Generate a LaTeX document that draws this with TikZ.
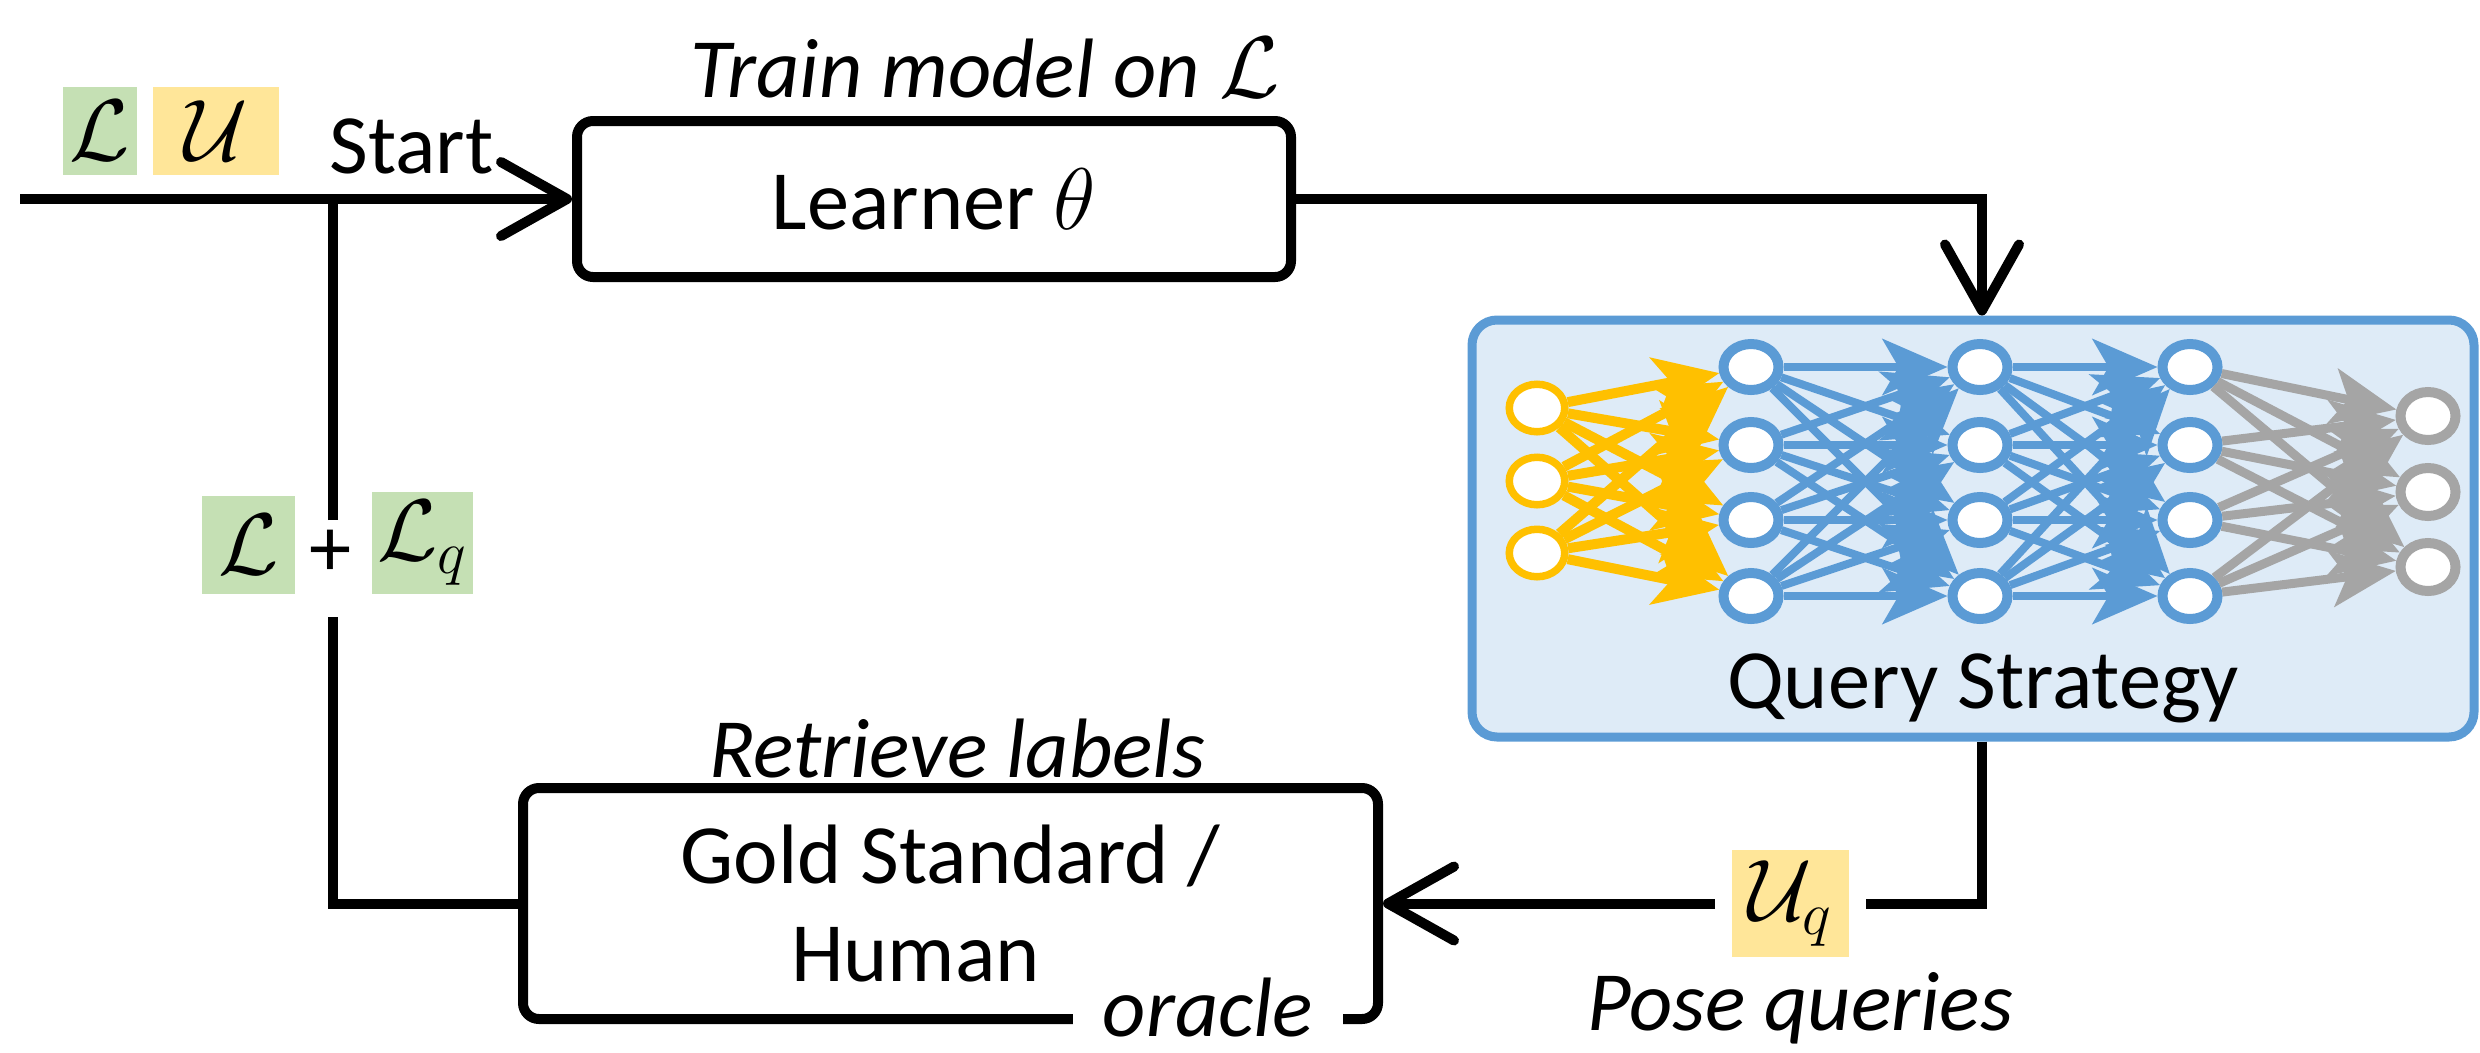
\documentclass[tikz,border=0pt]{standalone}
\usepackage{fontspec}
\setmainfont{Carlito}
\usetikzlibrary{arrows.meta,shapes.geometric}

\definecolor{gfill}{HTML}{C5E0B4}
\definecolor{yfill}{HTML}{FFE699}
\definecolor{qsfill}{HTML}{DEEBF7}
\definecolor{qsline}{HTML}{5B9BD5}
\definecolor{nnyellow}{HTML}{FFC000}
\definecolor{nnblue}{HTML}{5B9BD5}
\definecolor{nngray}{HTML}{A5A5A5}

\begin{document}
\begin{tikzpicture}[x=0.1mm,y=-0.1mm,
  every node/.style={font=\fontsize{24}{28}\selectfont},
  note/.style={font=\fontsize{24}{28}\selectfont\itshape, anchor=base},
  wire/.style={line width=1mm, black},
  flow/.style={wire, -{Straight Barb[length=6.6mm,width=7.4mm,round]}},
  procbox/.style={draw, line width=1mm, rounded corners=1.6mm, inner sep=0pt, align=center},
  tag/.style={inner sep=0pt},
  gtag/.style={tag, fill=gfill},
  ytag/.style={tag, fill=yfill},
  neuron/.style={ellipse, draw=#1, line width=1mm, fill=white, inner sep=0pt,
                 minimum width=5.5mm, minimum height=4.6mm},
  syn/.style={draw=#1, line width=0.8mm, -{Stealth[length=6.5mm,width=5.6mm,inset=1.6mm]}},
]
\useasboundingbox (0,0) rectangle (2480,1052);

% ---------- process boxes ----------
\node[procbox, minimum width=71.4mm, minimum height=15.6mm] (learner) at (934,199) {Learner $\theta$};
\node[procbox, minimum width=85.5mm, minimum height=23.1mm] (oracle) at (950.5,903.5)
  {Gold Standard /\\Human\hspace*{7mm}};
\node[draw=qsline, fill=qsfill, line width=0.9mm, rounded corners=2.5mm, inner sep=0pt,
      minimum width=100.2mm, minimum height=41.7mm] (qs) at (1973,528.5) {};
\node[anchor=base] (qstext) at (1983,708) {Query Strategy};

% ---------- captions ----------
\node[note] (train) at (985,97) {Train model on $\mathcal{L}$};
\node[note] (retrieve) at (957,777) {Retrieve labels};
\node[note] (pose) at (1800,1030) {Pose queries};
\node[anchor=base west] (start) at (317,173) {Start};

% ---------- set labels ----------
\node[gtag, minimum width=7.4mm, minimum height=8.8mm] (lset) at (100,131) {$\mathcal{L}$};
\node[ytag, minimum width=12.6mm, minimum height=8.8mm] (uset) at (216,131) {$\mathcal{U}$};
\node[gtag, minimum width=9.3mm, minimum height=9.8mm] (lold) at (248.5,545) {$\mathcal{L}$};
\node (plus) at (331,553) {+};
\node[gtag, minimum width=10.1mm, minimum height=10.2mm] (lnew) at (422.5,543) {$\mathcal{L}_q$};
\node[ytag, minimum width=11.7mm, minimum height=10.7mm, outer xsep=1.7mm] (uq) at (1790.5,903.5) {$\mathcal{U}_q$};

% ---------- connectors ----------
\coordinate (src) at (20,199);
\coordinate (join) at (333,199);
\coordinate (gaptop) at (333,520);
\coordinate (gapbot) at (333,617);
\draw[flow] (src) -- (learner.west);
\draw[wire] (gaptop) -- (join);
\draw[wire] (oracle.west) -| (gapbot);
\draw[flow] (learner.east) -| ([xshift=0.9mm]qs.north);
\draw[wire] ([xshift=0.9mm]qs.south) |- (uq.east);
\draw[flow] (uq.west) -- (oracle.east);

% caption that interrupts the lower border of the oracle box
\node[note, fill=white, inner xsep=3mm, inner ysep=1mm] (oraclelabel) at (1208,1036) {oracle};

% ---------- neural network ----------
\foreach \i/\y in {1/408,2/481,3/553}
  \node[neuron=nnyellow, line width=0.75mm, minimum width=5.55mm, minimum height=4.75mm] (in\i) at (1537,\y) {};
\foreach \i/\y in {1/367,2/445,3/520,4/596}{
  \node[neuron=nnblue] (ha\i) at (1751,\y) {};
  \node[neuron=nnblue] (hb\i) at (1980,\y) {};
  \node[neuron=nnblue] (hc\i) at (2190,\y) {};
}
\foreach \i/\y in {1/416,2/492,3/567}
  \node[neuron=nngray, minimum height=4.8mm] (out\i) at (2428,\y) {};

\foreach \i in {1,2,3}
  \foreach \j in {1,...,4}
    \draw[syn=nnyellow, line width=1mm] (in\i) -- (ha\j);
\foreach \i in {1,...,4}
  \foreach \j in {1,...,4}{
    \draw[syn=nnblue] (ha\i) -- (hb\j);
    \draw[syn=nnblue] (hb\i) -- (hc\j);
  }
\foreach \i in {1,...,4}
  \foreach \j in {1,2,3}
    \draw[syn=nngray, line width=0.9mm] (hc\i) -- (out\j);
\end{tikzpicture}
\end{document}
